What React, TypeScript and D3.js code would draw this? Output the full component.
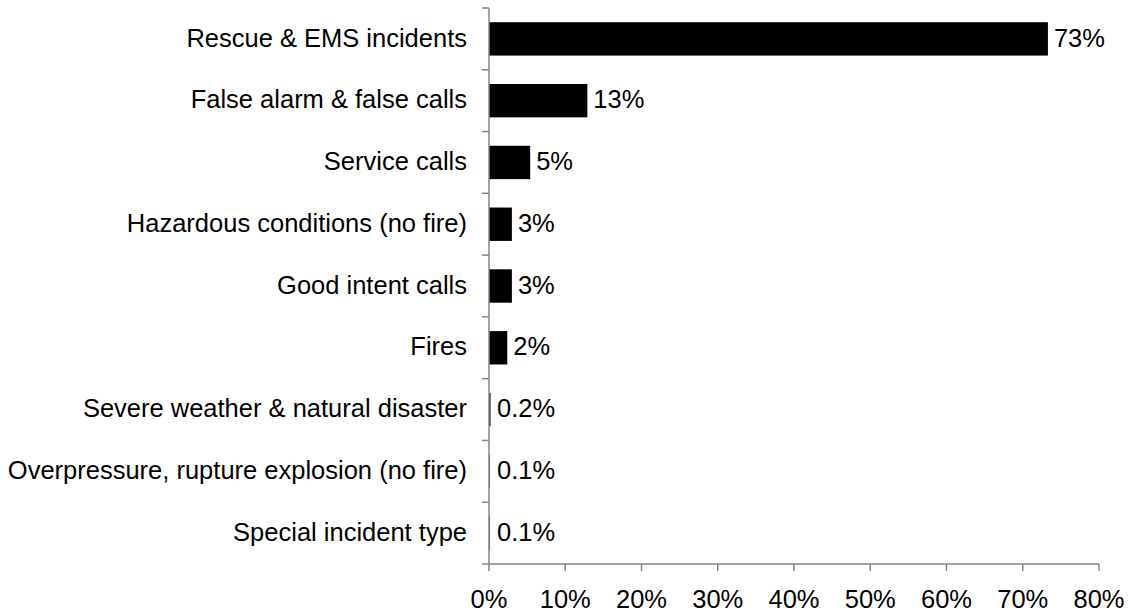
import React from "react";
import * as d3 from "d3";

const categories = [
  "Rescue & EMS incidents",
  "False alarm & false calls",
  "Service calls",
  "Hazardous conditions (no fire)",
  "Good intent calls",
  "Fires",
  "Severe weather & natural disaster",
  "Overpressure, rupture explosion (no fire)",
  "Special incident type",
];
const values = [73.3, 12.9, 5.4, 3.0, 3.0, 2.4, 0.2, 0.1, 0.1];
const valueLabels = ["73%", "13%", "5%", "3%", "3%", "2%", "0.2%", "0.1%", "0.1%"];
const xTicks = [0, 10, 20, 30, 40, 50, 60, 70, 80];

export default function App() {
  const W = 1128, H = 614;
  const left = 489, right = 1099, top = 8, bottom = 564;
  const x = d3.scaleLinear().domain([0, 80]).range([left, right]);
  const y = d3.scaleBand().domain(categories).range([top, bottom]).paddingInner(0.46).paddingOuter(0.23);
  const step = (bottom - top) / categories.length;
  const axisColor = "#868686";
  const font = "Liberation Sans, Arial, sans-serif";
  const fs = 25.5;
  return (
    <svg width={W} height={H} style={{ position: "absolute", left: 0, top: 0 }} fontFamily={font}>
      <rect width={W} height={H} fill="#fff" />
      {categories.map((c, i) => (
        <rect key={c} x={x(0)} y={y(c)!} width={x(values[i]) - x(0)} height={y.bandwidth()} fill="#000" />
      ))}
      <line x1={left} x2={left} y1={top} y2={bottom} stroke={axisColor} strokeWidth={1.5} />
      {d3.range(categories.length + 1).map((i) => (
        <line key={i} x1={left - 7} x2={left} y1={top + i * step} y2={top + i * step} stroke={axisColor} strokeWidth={1.5} />
      ))}
      <line x1={left} x2={right} y1={bottom} y2={bottom} stroke={axisColor} strokeWidth={1.5} />
      {xTicks.map((t) => (
        <g key={t}>
          <line x1={x(t)} x2={x(t)} y1={bottom} y2={bottom + 7} stroke={axisColor} strokeWidth={1.5} />
          <text x={x(t)} y={608} textAnchor="middle" fontSize={fs} fill="#000">{t}%</text>
        </g>
      ))}
      {categories.map((c) => (
        <text key={c} x={467} y={y(c)! + y.bandwidth() / 2} dy="0.3em" textAnchor="end" fontSize={fs} fill="#000">{c}</text>
      ))}
      {categories.map((c, i) => (
        <text key={c + "v"} x={Math.max(x(values[i]), x(0) + 2) + 6} y={y(c)! + y.bandwidth() / 2} dy="0.3em" fontSize={fs} fill="#000">{valueLabels[i]}</text>
      ))}
    </svg>
  );
}
